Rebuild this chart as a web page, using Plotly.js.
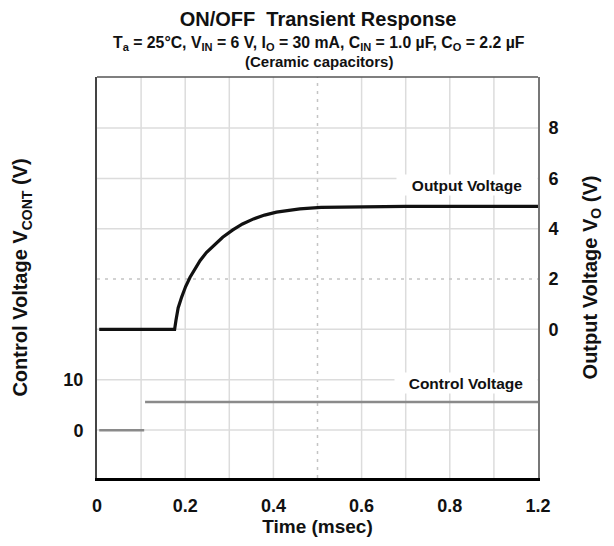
<!DOCTYPE html>
<html>
<head>
<meta charset="utf-8">
<script src="https://cdn.plot.ly/plotly-3.0.1.min.js"></script>
<style>html,body{margin:0;padding:0;background:#fff;}#chart{width:614px;height:546px;}</style>
</head>
<body>
<div id="chart"></div>
<script>
// ---- data (time in msec, voltages in V) ----
const outTime = [0.005, 0.176, 0.179, 0.184, 0.192, 0.201, 0.211, 0.222, 0.234, 0.248, 0.264, 0.285, 0.308, 0.330, 0.355, 0.380, 0.407, 0.435, 0.460, 0.508, 0.596, 0.70, 0.80, 0.90, 1.0];
const outVolt = [0, 0, 0.35, 0.85, 1.28, 1.70, 2.07, 2.42, 2.74, 3.05, 3.33, 3.66, 3.95, 4.19, 4.39, 4.54, 4.66, 4.74, 4.79, 4.85, 4.88, 4.89, 4.89, 4.89, 4.89];
const ctrlTime = [0.005, 0.107, null, 0.109, 1.0];
const ctrlVolt = [0, 0, null, 5.6, 5.6];

// tick labels as printed on the original chart
const xTickVals = [0, 0.2, 0.4, 0.6, 0.8, 1.0];
const xTickText = ["0", "0.2", "0.4", "0.6", "0.8", "1.2"];
const ctrlTickVals = [0, 10];
const outTickVals = [0, 2, 4, 6, 8];

// oscilloscope graticule (10 x 8 divisions)
const gridTimes = [0.1, 0.2, 0.3, 0.4, 0.5, 0.6, 0.7, 0.8, 0.9];
const gridOut = [-4, -2, 0, 2, 4, 6, 8];
const centreTime = 0.5, centreOut = 2;

const FONT = "'Liberation Sans', Arial, sans-serif";

const shapes = [];
gridTimes.forEach(t => shapes.push({
  type: 'line', layer: 'below', xref: 'x', yref: 'paper', x0: t, x1: t, y0: 0, y1: 1,
  line: t === centreTime ? {color: '#c4c4c4', width: 1.5, dash: '3px,5px'} : {color: '#dcdcdc', width: 1.5}
}));
gridOut.forEach(v => shapes.push({
  type: 'line', layer: 'below', xref: 'paper', yref: 'y2', x0: 0, x1: 1, y0: v, y1: v,
  line: v === centreOut ? {color: '#c4c4c4', width: 1.5, dash: '3px,5px'} : {color: '#dcdcdc', width: 1.5}
}));
// top frame edge
shapes.push({type: 'line', xref: 'paper', yref: 'paper', x0: 0, x1: 1, y0: 1, y1: 1, line: {color: '#555', width: 1.5}});

const traces = [
  {x: ctrlTime, y: ctrlVolt, yaxis: 'y', type: 'scatter', mode: 'lines',
   line: {color: '#8a8a8a', width: 2.5}, hoverinfo: 'skip', connectgaps: false},
  {x: outTime, y: outVolt, yaxis: 'y2', type: 'scatter', mode: 'lines',
   line: {color: '#111', width: 3.2}, hoverinfo: 'skip'}
];

const layout = {
  width: 614, height: 546,
  margin: {l: 97, r: 76, t: 77, b: 68},
  paper_bgcolor: '#fff', plot_bgcolor: '#fff',
  showlegend: false,
  font: {family: FONT, color: '#111'},
  title: {text: 'ON/OFF  Transient Response', font: {family: FONT, size: 20, weight: 'bold', color: '#111'},
          x: 0.518, xanchor: 'center', y: 0.965, yanchor: 'middle'},
  xaxis: {
    range: [0, 1.0], tickvals: xTickVals, ticktext: xTickText,
    showgrid: false, zeroline: false, showline: true, linecolor: '#000', linewidth: 3,
    ticks: '', ticklabelstandoff: 9,
    tickfont: {family: FONT, size: 18, weight: 'bold', color: '#111'},
    title: {text: 'Time (msec)', font: {family: FONT, size: 19, weight: 'bold', color: '#111'}, standoff: 4}
  },
  yaxis: {
    range: [-9.5, 70.2], tickvals: ctrlTickVals,
    showgrid: false, zeroline: false, showline: true, linecolor: '#444', linewidth: 2,
    ticks: '', ticklabelstandoff: 8,
    tickfont: {family: FONT, size: 18, weight: 'bold', color: '#111'},
    title: {text: 'Control Voltage V<sub>CONT</sub> (V)', font: {family: FONT, size: 20, weight: 'bold', color: '#111'}, standoff: 30}
  },
  yaxis2: {
    overlaying: 'y', side: 'right',
    range: [-5.91, 10.03], tickvals: outTickVals,
    showgrid: false, zeroline: false, showline: true, linecolor: '#777', linewidth: 2,
    ticks: '', ticklabelstandoff: 5,
    tickfont: {family: FONT, size: 18, weight: 'bold', color: '#111'},
    title: {text: 'Output Voltage V<sub>O</sub> (V)', font: {family: FONT, size: 20, weight: 'bold', color: '#111'}, standoff: 25}
  },
  shapes: shapes,
  annotations: [
    {text: 'T<sub>a</sub> = 25°C, V<sub>IN</sub> = 6 V, I<sub>O</sub> = 30 mA, C<sub>IN</sub> = 1.0 µF, C<sub>O</sub> = 2.2 µF',
     xref: 'paper', yref: 'paper', x: 0.503, y: 1 + (77 - 44) / 401,
     xanchor: 'center', yanchor: 'middle', showarrow: false,
     font: {family: FONT, size: 15.8, weight: 'bold', color: '#111'}},
    {text: '(Ceramic capacitors)', xref: 'paper', yref: 'paper', x: 0.503, y: 1 + (77 - 61) / 401,
     xanchor: 'center', yanchor: 'middle', showarrow: false,
     font: {family: FONT, size: 15, weight: 'bold', color: '#111'}},
    {text: 'Output Voltage', xref: 'x', yref: 'y2', x: 0.84, y: 5.75, xanchor: 'center', yanchor: 'middle',
     showarrow: false, bgcolor: '#fff', width: 138, height: 18,
     font: {family: FONT, size: 15.5, weight: 'bold', color: '#111'}},
    {text: 'Control Voltage', xref: 'x', yref: 'y2', x: 0.836, y: -2.15, xanchor: 'center', yanchor: 'middle',
     showarrow: false, bgcolor: '#fff', width: 140, height: 18,
     font: {family: FONT, size: 15.5, weight: 'bold', color: '#111'}}
  ]
};

Plotly.newPlot('chart', traces, layout, {staticPlot: true, displayModeBar: false});
</script>
</body>
</html>
